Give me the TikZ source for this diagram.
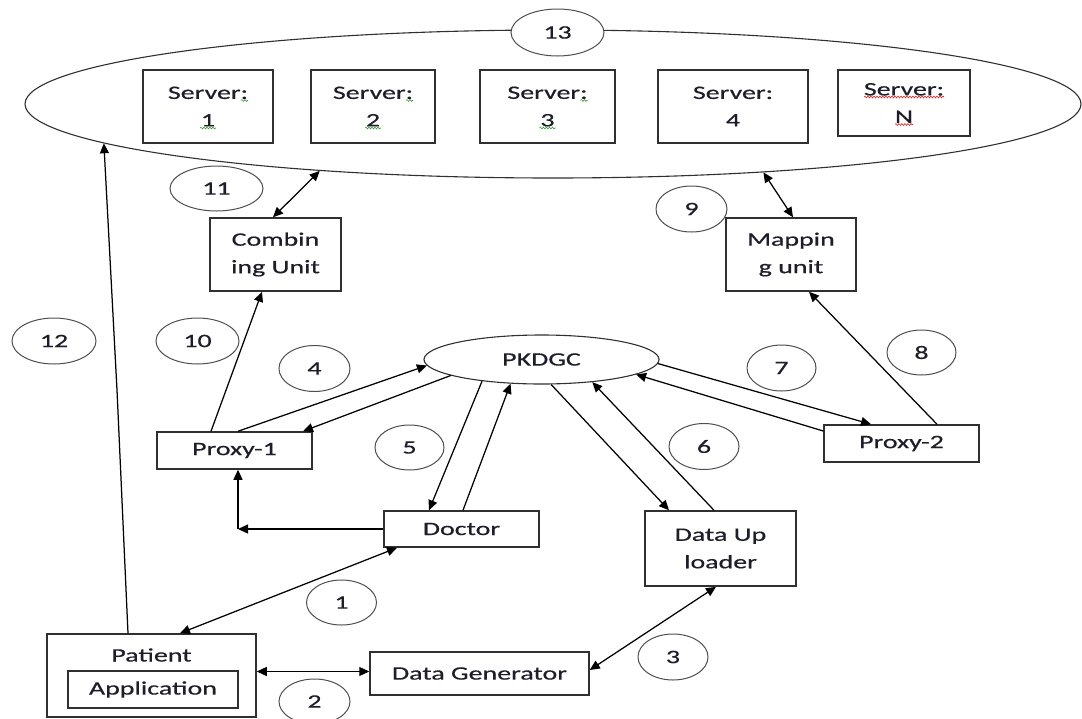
\documentclass[tikz,border=0pt]{standalone}
\usepackage{fontspec}
\setmainfont[FakeStretch=1.47,FakeBold=0.5]{Carlito}
\usetikzlibrary{arrows.meta,shapes.geometric,decorations.pathmorphing,calc}
\definecolor{ink}{HTML}{1E1E2A}
\definecolor{edge}{HTML}{303030}
\definecolor{spellgreen}{HTML}{3A9A3A}
\definecolor{spellred}{HTML}{E02020}
\begin{document}
\begin{tikzpicture}[x=1pt,y=-1pt,
  every node/.style={inner sep=0pt, text=ink, font=\fontsize{19}{27.5}\selectfont},
  box/.style={draw=edge, line width=1.5pt, rectangle, align=center},
  tag/.style={draw=edge!85, line width=1pt, ellipse, fill=white},
  arr/.style={draw=black, line width=1.25pt, -{Triangle[length=10pt,width=9pt]}},
  darr/.style={draw=black, line width=1.25pt, {Triangle[length=10pt,width=9pt]}-{Triangle[length=10pt,width=9pt]}},
  squig/.style={decorate, decoration={snake, amplitude=0.9pt, segment length=3pt}, line width=0.6pt},
]
\useasboundingbox (0,0) rectangle (1082,718);

% server pool
\node[ellipse, draw=edge, line width=1.1pt, minimum width=1056pt, minimum height=148pt] (cloud) at (553,104) {};
\node[tag, minimum width=93pt, minimum height=47pt] (c13) at (557.5,32.5) {13};

\node[box, minimum width=130pt, minimum height=73pt] (s1) at (208,106.5) {Server:\\1};
\node[box, minimum width=124pt, minimum height=73pt] (s2) at (373,106.5) {Server:\\2};
\node[box, minimum width=135pt, minimum height=73pt] (s3) at (547.5,106.5) {Server:\\3};
\node[box, minimum width=150pt, minimum height=73pt] (s4) at (733,106.5) {Server:\\4};
\node[box, minimum width=132pt, minimum height=66pt] (sN) at (904,103) {Server:\\N};

% spell-check marks under the server labels
\foreach \s in {s1,s2,s3}{
  \draw[squig, spellgreen] ([xshift=33pt,yshift=6pt]\s.center) -- ([xshift=40pt,yshift=6pt]\s.center);
  \draw[squig, spellgreen] ([xshift=-8pt,yshift=-21.5pt]\s.center) -- ([xshift=8pt,yshift=-21.5pt]\s.center);
}
\draw[squig, spellred] ([xshift=-40pt,yshift=6pt]sN.center) -- ([xshift=40pt,yshift=6pt]sN.center);
\draw[squig, spellred] ([xshift=-9pt,yshift=-21.5pt]sN.center) -- ([xshift=9pt,yshift=-21.5pt]sN.center);

% units and actors
\node[box, minimum width=131pt, minimum height=73pt] (comb) at (275.5,254.5) {Combin\\ing Unit};
\node[box, minimum width=130pt, minimum height=73pt] (map) at (791,254.5) {Mappin\\g unit};
\node[ellipse, draw=edge, line width=1.1pt, minimum width=235pt, minimum height=49pt] (pkdgc) at (541.5,359.5) {PKDGC};
\node[box, minimum width=155pt, minimum height=37pt] (p1) at (234.5,450.5) {Proxy-1};
\node[box, minimum width=155pt, minimum height=37pt] (p2) at (901.5,443.5) {Proxy-2};
\node[box, minimum width=155pt, minimum height=36pt] (doctor) at (461.5,529) {Doctor};
\node[box, minimum width=151pt, minimum height=75pt] (dup) at (720.5,548.5) {Data Up\\loader};
\node[box, minimum width=209pt, minimum height=83pt] (patient) at (151.5,675.5) {};
\node (ptxt) at (151.5,655) {Patient};
\node[box, minimum width=170pt, minimum height=37pt] (app) at (153,689.5) {Application};
\node[box, minimum width=219pt, minimum height=43pt] (dgen) at (479.5,673.5) {Data Generator};

% connectors
\draw[darr] ([xshift=-64.5pt]doctor.south) -- ([xshift=28.5pt]patient.north);
\draw[darr] ([yshift=4pt]patient.east) -- ([yshift=4pt]patient.east -| dgen.west);
\draw[darr] ([yshift=3.5pt]dgen.east) -- ([xshift=-4.5pt]dup.south);
\draw[arr] ([xshift=3.5pt]p1.north) -- (pkdgc.183);
\draw[arr] (pkdgc.190) -- ([xshift=68.5pt]p1.north);
\draw[arr] (pkdgc.200) -- ([xshift=-32.5pt]doctor.north);
\draw[arr] ([xshift=1.5pt]doctor.north) -- (pkdgc.218);
\draw[arr] (pkdgc.291) -- ([xshift=-51.5pt]dup.north);
\draw[arr] ([xshift=-6.5pt]dup.north) -- (pkdgc.336);
\draw[arr] (pkdgc.358) -- ([xshift=-30.5pt]p2.north);
\draw[arr] ([yshift=12.5pt]p2.west) -- (pkdgc.351);
\draw[arr] ([xshift=35.5pt]p2.north) -- ([xshift=18pt]map.south);
\draw[darr] ([xshift=2pt]map.north) -- (cloud.342);
\draw[arr] ([xshift=-23.5pt]p1.north) -- ([xshift=-13.5pt]comb.south);
\draw[darr] ([xshift=-2.5pt]comb.north) -- (cloud.196);
\coordinate (k12) at (117,390);
\draw[arr] ([xshift=-23.5pt]patient.north) -- (k12) -- (cloud.185);
\coordinate (elb) at ([xshift=3.5pt]p1.south |- doctor.west);
\draw[arr] (doctor.west) -- (elb);
\draw[arr] (elb) -- ([xshift=3.5pt]p1.south);

% step numbers
\node[tag, minimum width=93pt, minimum height=45pt] (c11) at (216.5,188.5) {11};
\node[tag, minimum width=71pt, minimum height=46pt] (c9) at (691.5,209) {9};
\node[tag, minimum width=84pt, minimum height=46pt] (c12) at (54,341) {12};
\node[tag, minimum width=83pt, minimum height=46pt] (c10) at (197.5,341) {10};
\node[tag, minimum width=71pt, minimum height=46pt] (c4) at (314.5,368.5) {4};
\node[tag, minimum width=69pt, minimum height=46pt] (c7) at (781.5,368) {7};
\node[tag, minimum width=69pt, minimum height=45pt] (c8) at (921.5,352.5) {8};
\node[tag, minimum width=69pt, minimum height=45pt] (c5) at (409.5,447.5) {5};
\node[tag, minimum width=70pt, minimum height=46pt] (c6) at (704,446.5) {6};
\node[tag, minimum width=70pt, minimum height=45pt] (c1) at (341.5,602.5) {1};
\node[tag, minimum width=71pt, minimum height=45pt] (c2) at (314.5,701.5) {2};
\node[tag, minimum width=70pt, minimum height=46pt] (c3) at (673,657) {3};
\end{tikzpicture}
\end{document}
